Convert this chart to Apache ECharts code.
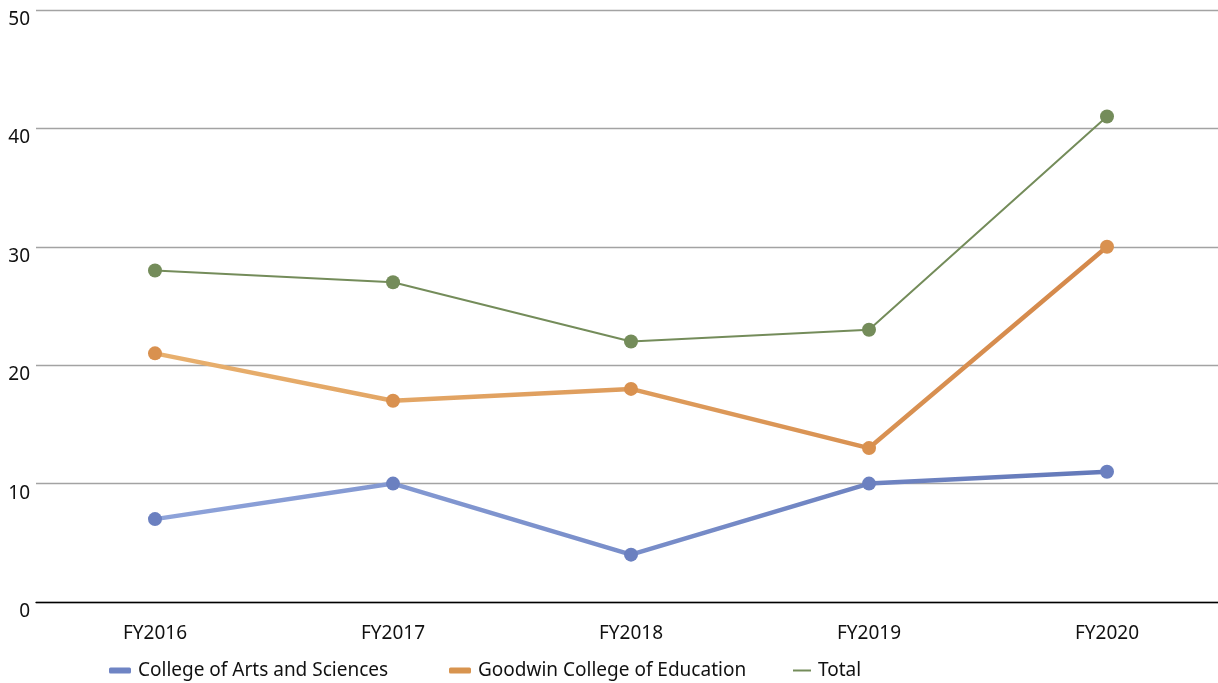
<!DOCTYPE html>
<html><head><meta charset="utf-8">
<script src="https://cdn.jsdelivr.net/npm/echarts@6/dist/echarts.min.js"></script>
<style>html,body{margin:0;padding:0;background:#fff}#c{width:1218px;height:683px}</style>
</head><body><div id="c"></div>
<script>
const categories = ["FY2016","FY2017","FY2018","FY2019","FY2020"];
const artsValues = [7,10,4,10,11];
const educationValues = [21,17,18,13,30];
const totalValues = [28,27,22,23,41];
const seriesNames = ["College of Arts and Sciences","Goodwin College of Education","Total"];
const yTicks = {min:0,max:50,interval:10};

const FONT = "Noto Sans";
const FS = 19;
function grad(a,b){return {type:'linear',x:0,y:0,x2:1,y2:0,colorStops:[{offset:0,color:a},{offset:1,color:b}]};}
function leg(name,left,icon,color,w,h){
  return {top:656,left:left,itemWidth:w,itemHeight:h,itemGap:0,
    textStyle:{fontSize:FS,color:'#111',fontFamily:FONT,padding:[0,0,0,2]},
    data:[{name:name,icon:icon,itemStyle:{color:color}}]};
}

const chart = echarts.init(document.getElementById('c'),null,{renderer:'canvas'});
chart.setOption({
  animation:false,
  textStyle:{fontFamily:FONT},
  grid:{left:36,width:1190,top:10,bottom:81,containLabel:false,outerBoundsMode:'none'},
  xAxis:{type:'category',data:categories,boundaryGap:true,
    axisLine:{lineStyle:{color:'#000',width:1.3}},
    axisTick:{alignWithLabel:true,length:9,lineStyle:{color:'#555',width:1.2}},
    axisLabel:{color:'#111',fontSize:FS,fontFamily:FONT,margin:22}},
  yAxis:{type:'value',min:yTicks.min,max:yTicks.max,interval:yTicks.interval,
    axisLine:{show:false},axisTick:{show:false},
    splitLine:{lineStyle:{color:'#a3a3a3',width:1.4}},
    axisLabel:{color:'#111',fontSize:FS,fontFamily:FONT,margin:6,verticalAlign:'top'}},
  legend:[
    leg(seriesNames[0],104,'roundRect','#6f84c4',22,6),
    leg(seriesNames[1],444,'roundRect','#d8944f',22,6),
    leg(seriesNames[2],788,'path://M0,0 L18,0 L18,2 L0,2 Z','#748c5a',18,2)
  ],
  series:[
    {name:seriesNames[0],type:'line',data:artsValues,symbol:'circle',symbolSize:14,
      lineStyle:{width:4.5,color:grad('#8ea3da','#6479b9')},
      itemStyle:{color:'#6b80c0'}},
    {name:seriesNames[1],type:'line',data:educationValues,symbol:'circle',symbolSize:14,
      lineStyle:{width:4.5,color:grad('#e8b06e','#d4884a')},
      itemStyle:{color:'#d9914f'}},
    {name:seriesNames[2],type:'line',data:totalValues,symbol:'circle',symbolSize:14,
      lineStyle:{width:2,color:'#748c5a'},
      itemStyle:{color:'#748c5a'}}
  ]
});
</script></body></html>
